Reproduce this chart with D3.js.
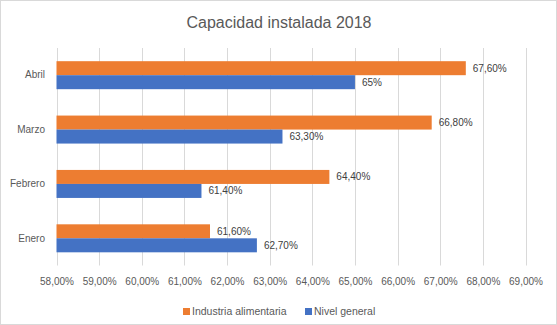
<!DOCTYPE html>
<html><head><meta charset="utf-8">
<script src="https://cdn.jsdelivr.net/npm/d3@7"></script>
<style>
body{margin:0;background:#fff;}
text{font-family:"Liberation Sans",Arial,sans-serif;}
</style></head><body>
<svg id="c" width="557" height="325"></svg>
<script>
const categories = ["Abril","Marzo","Febrero","Enero"];
const seriesNames = ["Industria alimentaria","Nivel general"];
const industria = [67.6, 66.8, 64.4, 61.6];
const nivel = [65, 63.3, 61.4, 62.7];
const industriaLabels = ["67,60%","66,80%","64,40%","61,60%"];
const nivelLabels = ["65%","63,30%","61,40%","62,70%"];
const ticks = [58,59,60,61,62,63,64,65,66,67,68,69];
const colors = ["#ED7D31","#4472C4"];
const FONT = "'Liberation Sans',Arial,sans-serif";

const svg = d3.select("#c");
svg.append("rect").attr("x",0.5).attr("y",0.5).attr("width",556).attr("height",324)
  .attr("fill","#fff").attr("stroke","#d9d9d9");

svg.append("text").attr("x",279).attr("y",28).attr("text-anchor","middle")
  .attr("font-size","16px").attr("fill","#595959").text("Capacidad instalada 2018");

const x = d3.scaleLinear().domain([58,69]).range([56.5,525.5]);
const y = d3.scaleBand().domain(categories).range([48,265.5]).paddingInner(0.485).paddingOuter(0.2425);
const ys = d3.scaleBand().domain(seriesNames).range([0,y.bandwidth()]);

// gridlines
svg.append("g").selectAll("line").data(ticks).join("line")
  .attr("x1",d=>Math.round(x(d))+0.5).attr("x2",d=>Math.round(x(d))+0.5).attr("y1",48).attr("y2",265.5)
  .attr("stroke","#d9d9d9").attr("stroke-width",1);

// x axis labels
const xAxis = d3.axisBottom(x).tickValues(ticks).tickSize(0).tickPadding(0)
  .tickFormat(d=>d.toFixed(2).replace(".",",")+"%");
const gx = svg.append("g").attr("transform","translate(0,278)").call(xAxis);
gx.select(".domain").remove();
gx.selectAll("text").attr("font-size","10px").attr("fill","#595959").attr("font-family",FONT);

// y axis labels
const yAxis = d3.axisLeft(y).tickSize(0).tickPadding(0);
const gy = svg.append("g").attr("transform","translate(45,0)").call(yAxis);
gy.select(".domain").remove();
gy.selectAll("text").attr("font-size","10px").attr("fill","#595959").attr("font-family",FONT);

const series = [
  {name:seriesNames[0], values:industria, labels:industriaLabels, color:colors[0]},
  {name:seriesNames[1], values:nivel, labels:nivelLabels, color:colors[1]}
];

series.forEach(s=>{
  const g = svg.append("g");
  g.selectAll("rect").data(categories).join("rect")
    .attr("x",x(58))
    .attr("y",(c)=>y(c)+ys(s.name))
    .attr("width",(c,i)=>x(s.values[i])-x(58))
    .attr("height",ys.bandwidth())
    .attr("fill",s.color);
  g.selectAll("text").data(categories).join("text")
    .attr("x",(c,i)=>x(s.values[i])+7)
    .attr("y",(c)=>y(c)+ys(s.name)+ys.bandwidth()/2)
    .attr("dy","0.35em")
    .attr("font-size","10px").attr("fill","#404040")
    .text((c,i)=>s.labels[i]);
});

// legend
const legend = [{name:seriesNames[0],color:colors[0],x:183},{name:seriesNames[1],color:colors[1],x:305}];
const lg = svg.append("g");
legend.forEach(l=>{
  lg.append("rect").attr("x",l.x).attr("y",308).attr("width",7).attr("height",7).attr("fill",l.color);
  lg.append("text").attr("x",l.x+9).attr("y",311.5).attr("dy","0.35em")
    .attr("font-size","10.5px").attr("fill","#595959").text(l.name);
});
</script>
</body></html>
